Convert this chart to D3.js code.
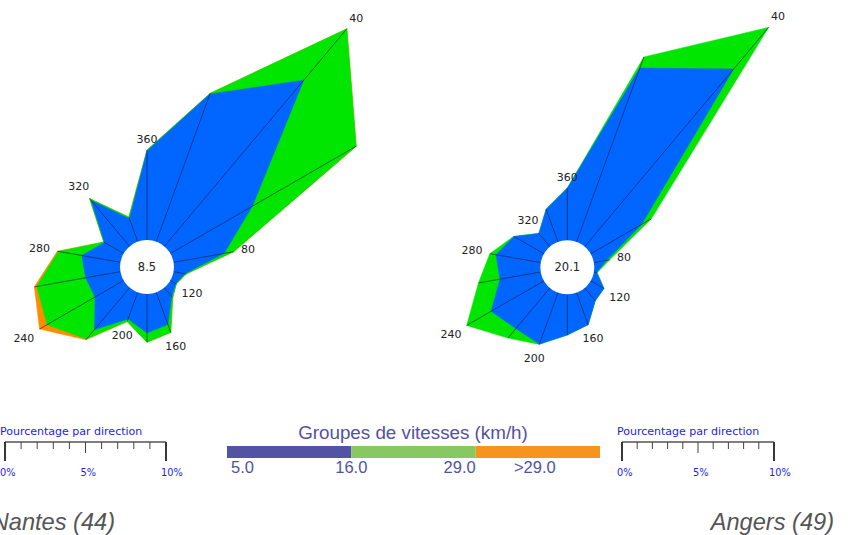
<!DOCTYPE html>
<html><head><meta charset="utf-8">
<script src="https://cdn.jsdelivr.net/npm/d3@7"></script>
<style>body{margin:0;background:#fff;overflow:hidden} svg{display:block}</style>
</head><body>
<svg id="chart" width="851" height="535"></svg>
<script>
// ---------- data ----------
const directions = [0,20,40,60,80,100,120,140,160,180,200,220,240,260,280,300,320,340];
const labelDirections = [40,80,120,160,200,240,280,320,360];
const speedGroups = ["5.0","16.0","29.0",">29.0"];
const speedBands = ["5-16","16-29",">29"];
const scaleTicks = [0,1,2,3,4,5,6,7,8,9,10];
const scaleLabels = [0,5,10];

// Nantes (44) - percentage per direction and speed group
const nantesBlue   = [5.53,9.75,13.47,5.88,3.18,0.71,0.39,0.71,2.12,2.42,1.76,3.39,2.05,2.19,2.44,1.37,3.73,1.51];
const nantesGreen  = [0.06,0.06,4.17,7.45,0.61,0.09,0.04,0.10,0.53,0.58,0.17,0.78,3.44,3.09,1.47,0.06,0.14,0.11];
const nantesOrange = [0,0,0,0,0,0,0,0,0,0,0,0.06,0.54,0.15,0.07,0,0,0];
const nantesCalm = "8.5";

// Angers (49)
const angersBlue   = [3.42,12.18,15.25,3.86,0.86,0.18,1.01,1.09,2.24,2.68,3.60,3.49,4.01,2.72,2.99,2.27,1.12,2.29];
const angersGreen  = [0.03,0.77,3.58,0.75,0.20,0.05,0,0,0,0,0.02,0.81,1.86,1.44,0.41,0.03,0.03,0.01];
const angersOrange = [0,0,0,0,0,0,0,0,0,0,0,0,0,0,0,0,0,0];
const angersCalm = "20.1";

// ---------- styles ----------
const roseColors = ["#0066ff","#00e600","#ff8c00"];
const legendColors = ["#5353a3","#88c862","#f7941d"];
const legendText = "#5252a2";
const scaleBlue = "#1c1cf0";
const CALM_R = 27;

const svg = d3.select("#chart");

function drawRose(cx, cy, layers, calm, len10) {
  const g = svg.append("g").attr("transform", `translate(${cx},${cy})`);
  const r = d3.scaleLinear().domain([0,10]).range([CALM_R, CALM_R + len10]);
  const ang = d => d * Math.PI / 180;
  const cum = [];
  let acc = directions.map(() => 0);
  layers.forEach(l => { acc = acc.map((v,i) => v + l[i]); cum.push(acc.slice()); });
  const line = d3.lineRadial()
    .angle((d,i) => ang(directions[i]))
    .radius(d => r(d))
    .curve(d3.curveLinearClosed);
  for (let k = cum.length - 1; k >= 0; k--) {
    if (!layers[k].some(v => v > 0)) continue;
    g.append("path").attr("d", line(cum[k]))
      .attr("fill", roseColors[k]).attr("stroke", roseColors[k]).attr("stroke-width", 0.5);
  }
  const outer = cum[cum.length - 1];
  g.selectAll("line.spoke").data(directions).enter().append("line")
    .attr("class","spoke")
    .attr("x1", d => d3.pointRadial(ang(d), CALM_R)[0])
    .attr("y1", d => d3.pointRadial(ang(d), CALM_R)[1])
    .attr("x2", (d,i) => d3.pointRadial(ang(d), r(outer[i]))[0])
    .attr("y2", (d,i) => d3.pointRadial(ang(d), r(outer[i]))[1])
    .attr("stroke", "#1a1a3a").attr("stroke-width", 0.6);
  g.append("circle").attr("r", CALM_R).attr("fill", "#fff");
  g.append("text").attr("text-anchor","middle").attr("dy","0.36em")
    .attr("font-family","DejaVu Sans").attr("font-size",11.5).attr("fill","#222")
    .text(calm);
  labelDirections.forEach(d => {
    const i = directions.indexOf(d % 360);
    const t = g.append("text").attr("text-anchor","middle").attr("dy","0.36em")
      .attr("font-family","DejaVu Sans").attr("font-size",11).attr("fill","#222")
      .text(d);
    const w = t.node().getComputedTextLength();
    const a = ang(d);
    const pad = 7 + Math.abs(Math.sin(a)) * w / 2 + Math.abs(Math.cos(a)) * 4;
    const p = d3.pointRadial(a, r(outer[i]) + pad);
    t.attr("x", p[0]).attr("y", p[1]);
  });
}

function drawScale(x0, len10, y) {
  const s = d3.scaleLinear().domain([0,10]).range([x0, x0 + len10]);
  const g = svg.append("g");
  g.append("text").attr("x", x0 - 5).attr("y", y - 7)
    .attr("font-family","DejaVu Sans").attr("font-size",11).attr("fill",scaleBlue)
    .text("Pourcentage par direction");
  g.append("line").attr("x1", s(0)).attr("x2", s(10)).attr("y1", y).attr("y2", y)
    .attr("stroke","#555").attr("stroke-width",1.6);
  g.selectAll("line.tk").data(scaleTicks).enter().append("line")
    .attr("x1", d => s(d)).attr("x2", d => s(d))
    .attr("y1", y).attr("y2", d => (d === 0 || d === 10) ? y + 19 : d === 5 ? y + 11 : y + 7)
    .attr("stroke", d => (d === 0 || d === 10) ? "#222" : "#444")
    .attr("stroke-width", d => (d === 0 || d === 10) ? 1.8 : 1);
  g.selectAll("text.tl").data(scaleLabels).enter().append("text")
    .attr("x", d => s(d) - 5).attr("y", y + 34)
    .attr("font-family","DejaVu Sans").attr("font-size",9.8).attr("fill",scaleBlue)
    .text(d => d + "%");
}

drawRose(147, 267, [nantesBlue, nantesGreen, nantesOrange], nantesCalm, 161);
drawRose(567.3, 267.3, [angersBlue, angersGreen, angersOrange], angersCalm, 152);

drawScale(5, 161, 442);
drawScale(622, 152, 442);

// speed legend
const bx = d3.scaleBand().domain(speedBands).range([227, 600]);
const lg = svg.append("g");
lg.append("text").attr("x", 413).attr("y", 439).attr("text-anchor","middle")
  .attr("font-family","Liberation Sans, Arial, sans-serif").attr("font-size",18.8).attr("fill",legendText)
  .text("Groupes de vitesses (km/h)");
lg.selectAll("rect").data(speedBands).enter().append("rect")
  .attr("x", d => bx(d)).attr("y", 446).attr("width", bx.bandwidth()).attr("height", 12)
  .attr("fill", (d,i) => legendColors[i]);
const b0 = bx(speedBands[0]), b1 = bx(speedBands[1]), b2 = bx(speedBands[2]);
const labelPos = [
  {x: b0 + 4, anchor: "start"},
  {x: b1, anchor: "middle"},
  {x: b2, anchor: "end"},
  {x: b2 + bx.bandwidth()/2 - 3, anchor: "middle"}
];
lg.selectAll("text.sg").data(speedGroups).enter().append("text")
  .attr("x", (d,i) => labelPos[i].x).attr("y", 473).attr("text-anchor", (d,i) => labelPos[i].anchor)
  .attr("font-family","Liberation Sans, Arial, sans-serif").attr("font-size",16.5).attr("fill",legendText)
  .text(d => d);

// station titles
svg.append("text").attr("x", 115).attr("y", 530).attr("text-anchor","end")
  .attr("font-family","Liberation Sans, Arial, sans-serif").attr("font-size",23.6).attr("font-style","italic")
  .attr("fill","#555").text("Nantes (44)");
svg.append("text").attr("x", 834).attr("y", 530).attr("text-anchor","end")
  .attr("font-family","Liberation Sans, Arial, sans-serif").attr("font-size",23.6).attr("font-style","italic")
  .attr("fill","#555").text("Angers (49)");
</script>
</body></html>
